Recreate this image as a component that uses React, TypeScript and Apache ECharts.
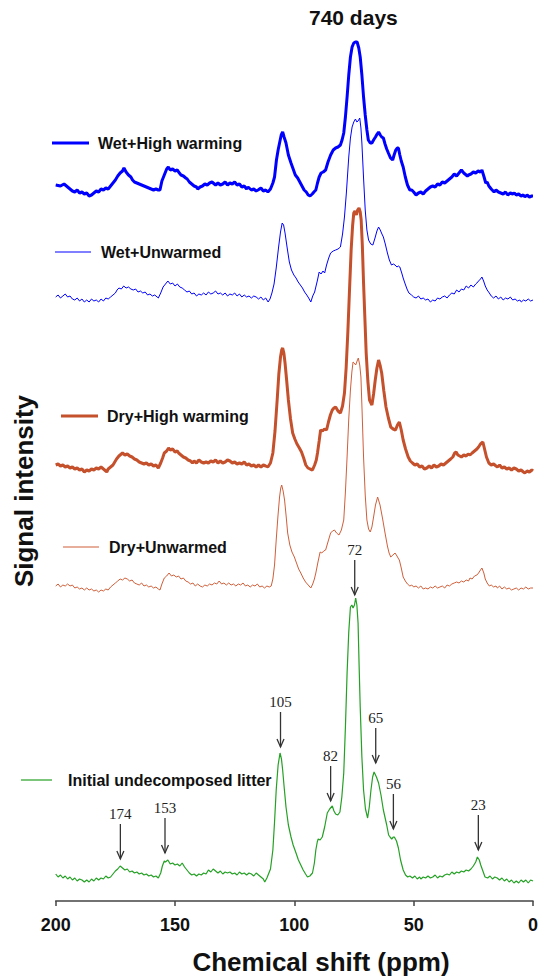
import React, { useEffect, useRef } from "react";
import * as echarts from "echarts";

// ---------- data ----------
const seriesNames = [
  "Wet+High warming",
  "Wet+Unwarmed",
  "Dry+High warming",
  "Dry+Unwarmed",
  "Initial undecomposed litter",
];
const seriesColors = ["#0000ff", "#0000ff", "#c4502c", "#cf5f3a", "#24a024"];
const seriesWidths = [3, 1, 3, 1, 1.2];
const xTicks = [200, 150, 100, 50, 0];
// vertical stacking offset of each spectrum (intensity units)
const stackOffsets = [706, 603, 435, 314, 24];

// chemical shift (ppm), signal intensity
const wetHigh: [number, number][] = [
  [200,10],[198,9],[196.5,11],[195,8],[194,6],[193,4],[192,3],[191,5],[190,2],[189,3],[188,1],[187,2],[186,-1],[185,0],[184,2],[183,4],[182,3],[181,6],[180,5],[179,7],[178,6],[177,9],[176,12],[175,15],[174,19],[173,22],[172,24],[171.4,27],[170.5,23],[169.5,20],[168.5,18],[167.8,15],[167,13],[166,12],[165,11],[164,10],[163,9],[162,8],[161,7],[160,6],[159,5],[158,6],[157,5],[156.3,5],[155.5,14],[154.5,20],[153.5,26],[152.8,28],[152,25],[151,26],[150,24],[149,25],[148.5,23],[147.5,20],[146.5,19],[145.5,17],[144.9,16],[144,13],[143,11],[142,9],[141,8],[140.5,6],[139.5,8],[138.5,9],[137.5,11],[136.5,10],[135.5,12],[134.5,13],[134,12],[133,10],[132,12],[131,10],[130,11],[129,13],[128,10],[127,12],[126,11],[125,13],[124,10],[123,11],[122,8],[121,9],[120,6],[119.4,8],[118,5],[117,6],[116,4],[115.2,5],[114,7],[113,4],[112,5],[111.1,3],[110,6],[109,12],[108.3,18],[107.5,35],[106.8,45],[106.2,52],[105.5,60],[104.9,63],[104.3,58],[103.5,52],[102.5,40],[101.4,32],[100.5,26],[99.6,20],[98.6,17],[97.7,13],[96.8,9],[95.9,5],[95,3],[94.2,0],[93.4,-1],[92.5,1],[91.8,3],[91,5],[90.3,12],[89.6,18],[88.8,22],[87.9,23],[86.9,25],[85.9,33],[84.8,40],[83.7,45],[82.7,47],[81.7,48],[80.7,50],[80,55],[79.3,62],[78.6,78],[77.9,98],[77.2,120],[76.5,138],[75.8,148],[75.1,152],[74.4,153],[73.7,153],[73,147],[72.4,138],[71.7,120],[71,98],[70.3,80],[69.6,65],[69,55],[68.2,52],[67.5,52],[66.8,55],[66,58],[65.3,61],[64.7,63],[64,60],[63.4,58],[62.7,57],[62,51],[61.3,46],[60.6,42],[59.7,37],[58.8,35],[58.2,40],[57.5,45],[56.9,47],[56.4,47],[55.8,40],[55.2,34],[54.4,28],[53.5,18],[52.6,10],[51.6,5],[50.8,5],[50,3],[49,0],[48,2],[47,3],[46,1],[45,4],[44,6],[43,8],[42,9],[41,8],[40,11],[39,10],[38,13],[37,12],[36,14],[35,16],[34,18],[33,21],[32,19],[31,22],[30,25],[29,22],[28.5,21],[27.5,19],[27,20],[26,21],[25,23],[24,22],[23,24],[22,23],[21.4,25],[20.5,18],[19.8,12],[19.2,13],[18.5,9],[17.5,6],[16.3,3],[15.5,5],[14.5,3],[13.5,2],[12.5,1],[11.5,3],[10.6,0],[9.5,2],[8.5,1],[7.8,2],[7,0],[6,1],[5,-1],[4,0],[3.4,-2],[2.5,0],[1.5,-2],[0.5,-1],[0,-1],
];

const wetUnwarmed: [number, number][] = [
  [200,1],[199,3],[198,0],[197,2],[196,4],[195,1],[194,2],[193,-1],[192,-2],[191,0],[190,-3],[189,-1],[188,-4],[187,-2],[186,-4],[185,-1],[184,-3],[183,-2],[182,-4],[181,-1],[180,-3],[179,0],[178,-1],[177,1],[176,3],[175,5],[174.3,8],[173.5,10],[172.5,9],[171.5,12],[170.5,10],[169.5,11],[168.5,9],[167.5,8],[166.5,9],[165.5,6],[164.5,7],[163.5,5],[162.5,6],[161.5,3],[160.5,4],[159.5,2],[158.5,3],[157.5,1],[157,0],[156,5],[155,11],[154,14],[153,17],[152,14],[151,15],[150,12],[149,14],[148,11],[147,10],[146,8],[145,6],[144,7],[143,4],[142,5],[141,2],[140,4],[139,3],[138,5],[137,3],[136,6],[135,4],[134,5],[133,7],[132,4],[131,5],[130,3],[129,5],[128,2],[127,4],[126,3],[125,5],[124,2],[123,4],[122,1],[121,3],[120,1],[119,2],[118,0],[117,2],[116,1],[115,-1],[114,1],[113,-2],[112,0],[111,-4],[110.2,-1],[109.4,5],[108.5,14],[107.6,30],[106.6,51],[105.8,66],[105.1,75],[104.5,73],[103.9,65],[103,50],[102.1,36],[101.2,28],[100.2,23],[99.3,20],[98.4,16],[97.5,13],[96.6,10],[95.7,6],[94.8,3],[94,0],[93.1,-4],[92.3,2],[91.5,6],[91,11],[90.3,18],[89.6,26],[88.8,24],[88,27],[87.3,25],[86.5,33],[85.6,40],[84.8,45],[83.7,47],[82.7,48],[81.7,49],[80.7,51],[79.8,64],[79,81],[78.2,105],[77.2,141],[76.5,160],[75.8,171],[75.1,176],[74.4,179],[73.8,176],[73.3,177],[72.6,180],[72.1,170],[71.7,155],[71,120],[70.3,88],[69.6,68],[68.9,58],[68,54],[67.1,53],[66.2,60],[65.4,67],[64.7,71],[64,68],[63.3,64],[62.7,61],[61.9,54],[61,45],[60.2,38],[59.3,33],[58.5,34],[57.8,33],[57,31],[56.4,32],[55.8,31],[55,25],[54.4,20],[53.7,15],[52.8,9],[52,5],[50.9,3],[50,1],[49,0],[48,2],[47,-1],[46,0],[45,-2],[44,-1],[43,-4],[42,-2],[41,-3],[40,0],[39,-1],[38,1],[37,2],[36,0],[35,3],[34,5],[33,4],[32,8],[31,6],[30,9],[29,8],[28,12],[27,10],[26,13],[25,11],[24,14],[23.5,15],[22.8,17],[22,19],[21.4,21],[20.7,17],[20,12],[19.2,8],[18.3,5],[17.5,2],[16.5,0],[15.5,2],[14.5,-1],[13.5,1],[12.5,-2],[11.5,0],[10.5,-1],[9.5,1],[8.5,-2],[7.5,-1],[6.5,-3],[5.5,-2],[4.9,-4],[4,-2],[3,-3],[2,-1],[1,-3],[0,-2],
];

const dryHigh: [number, number][] = [
  [200,1],[199,2],[198,0],[197,1],[196,-1],[195,0],[194,-2],[193,-1],[192,-3],[191,-2],[190,-4],[189,-3],[188,-6],[187,-4],[186,-5],[185,-3],[184,-4],[183,-2],[182,-3],[181,-1],[180,-3],[179,-5],[178.6,-6],[178,-3],[177,-1],[176,1],[175.5,3],[174.5,7],[173.5,10],[172.5,12],[172,13],[171,11],[170,12],[169,10],[168,9],[167,7],[166,6],[165,4],[164,3],[163,2],[162,3],[161,1],[160,2],[159,0],[158,1],[157,-2],[156,3],[155.2,8],[154.5,13],[153.5,15],[152.7,18],[152,16],[151,17],[150,14],[149,15],[148.5,13],[147.5,11],[146.5,9],[145.5,8],[144.5,6],[143.5,5],[142.7,3],[142,5],[141,3],[140,6],[139,4],[138,3],[137,4],[136,3],[135,5],[134,4],[133,6],[132,3],[131,5],[130,3],[129,4],[128,6],[127,5],[126,3],[125,4],[124,2],[123,3],[122,2],[121,4],[120,1],[119,2],[118,0],[117,1],[116,-1],[115,1],[114,-1],[113,1],[112,0],[111.1,-1],[110,3],[109,13],[108.1,35],[107.2,66],[106.5,92],[105.8,109],[105.3,116],[104.9,118],[104.4,113],[103.9,103],[103.2,85],[102.5,66],[101.6,47],[100.7,33],[99.8,27],[98.9,22],[97.9,18],[97,14],[96.1,8],[95.2,1],[94.3,-2],[93.4,-3],[92.4,-4],[91.5,1],[90.8,6],[90.3,13],[89.6,25],[89,36],[88.2,35],[87.4,37],[86.5,36],[85.7,44],[84.9,51],[84.1,56],[83.4,58],[82.7,59],[81.7,55],[80.7,53],[79.8,60],[79,73],[78.3,98],[77.6,133],[76.9,175],[76.2,216],[75.6,240],[75.1,253],[74.6,255],[74,251],[73.5,256],[72.9,258],[72.4,254],[72,246],[71.5,220],[71,183],[70.4,145],[69.9,113],[69.2,85],[68.5,66],[67.5,61],[66.8,72],[66.1,86],[65.4,98],[64.7,106],[64,100],[63.4,93],[62.5,75],[61.6,59],[60.6,48],[59.6,39],[58.6,37],[57.6,36],[56.8,41],[56,44],[55.2,36],[54.4,26],[53.4,17],[52.3,9],[51.4,5],[50.5,3],[49.5,1],[48.5,2],[47.5,-1],[46.5,0],[45.5,-3],[44.5,-2],[43.5,0],[42.5,-2],[41.5,1],[40.5,-1],[39.5,0],[38.5,2],[37.5,1],[36.5,3],[35.5,5],[34.5,7],[33.6,9],[32.8,13],[32.2,14],[31.5,11],[30.7,10],[30,9],[29,11],[28,10],[27.2,12],[26.4,11],[25.5,13],[24.5,15],[23.5,17],[22.8,19],[22,22],[21,24],[20.3,17],[19.5,9],[18.5,3],[17.5,1],[16.5,2],[15.5,0],[14.9,-1],[14,1],[13,-2],[12,-1],[11,-3],[10,-2],[9,-4],[8,-2],[7,-3],[6,-5],[5,-4],[4,-6],[3.4,-7],[2.5,-5],[1.5,-6],[0.5,-4],[0,-5],
];

const dryUnwarmed: [number, number][] = [
  [200,1],[199,3],[198,0],[197,2],[196,1],[195,3],[194,1],[193,2],[192,-1],[191,0],[190,-2],[189,-1],[188,-3],[187,-1],[186,-3],[185,-2],[184,-4],[183,-3],[182,-5],[181,-3],[180,-4],[179,-2],[178,-3],[177,0],[176,2],[175,4],[174,6],[173,8],[172,7],[171,9],[170,8],[169,6],[168,7],[167,4],[166,3],[165,2],[164,4],[163,1],[162,2],[161,0],[160,1],[159,-1],[158,0],[157,-2],[156.3,-3],[155.5,3],[154.5,9],[153.5,11],[152.5,14],[151.5,11],[150.5,12],[149.5,10],[148.5,11],[147.5,8],[146.5,9],[145.5,6],[144.5,5],[143.5,3],[142.5,4],[141.5,1],[140.5,3],[139.5,1],[138.5,0],[137.5,2],[136.5,1],[135.5,3],[134.5,2],[133.5,4],[132.5,3],[131.5,6],[130.5,3],[129.5,4],[128.5,2],[127.5,4],[126.5,2],[125.5,3],[124.5,1],[123.5,3],[122.5,2],[121.5,4],[120.5,1],[119.5,2],[118.5,0],[117.5,2],[116.5,1],[115.5,3],[114.5,0],[113.5,1],[112.5,-1],[111.5,1],[110.5,0],[109.7,1],[109,8],[108.3,22],[107.6,47],[106.9,70],[106.2,90],[105.7,99],[105.3,102],[104.7,96],[104.1,87],[103.4,70],[102.8,54],[101.9,42],[101,35],[100,30],[99.1,24],[98.2,18],[97.3,14],[96.3,9],[95.3,5],[94.2,2],[93.1,-1],[92.3,3],[91.6,8],[91,14],[90.1,25],[89.2,35],[88.5,34],[87.7,36],[86.9,37],[85.8,46],[84.8,54],[84,56],[83.2,57],[82.3,54],[81.3,52],[80.3,57],[79.3,67],[78.6,95],[77.9,130],[77.2,168],[76.5,197],[75.9,215],[75.4,225],[74.9,224],[74.3,222],[73.7,226],[73.2,229],[72.6,222],[72.1,210],[71.6,175],[71,130],[70.3,92],[69.6,67],[68.9,58],[68.2,55],[67.5,60],[66.8,70],[66,82],[65.1,90],[64.6,86],[64.1,82],[63,68],[62,54],[61,41],[60.3,34],[59.6,30],[58.7,32],[57.8,34],[57,31],[56.3,28],[56,27],[55.2,19],[54.4,10],[53.5,6],[52.6,3],[51.6,1],[50.8,2],[50,0],[49,1],[48,-1],[47,1],[46,-2],[45,-1],[44,-2],[43,0],[42,-1],[41,1],[40,-1],[39,0],[38,1],[37,-1],[36,2],[35,1],[34,3],[33,4],[32,5],[31,4],[30,6],[29,5],[28,7],[27,6],[26.4,9],[25.5,8],[24.5,11],[23.5,12],[22.8,14],[22,17],[21.4,19],[20.6,14],[20,8],[19.2,4],[18.3,1],[17.5,2],[16.5,0],[15.5,1],[14.9,-1],[14,1],[13,-2],[12,0],[11,-2],[10,-1],[9,-3],[8,-2],[7,-1],[6,-3],[5,-1],[4,-2],[3,0],[2,-2],[1,-1],[0,-1],
];

const initialLitter: [number, number][] = [
  [200,3],[199,0],[198,2],[197,-1],[196,1],[195,-2],[194,0],[193,-3],[192,-1],[191,-4],[190,-2],[189,-3],[188,-5],[187,-3],[186,-5],[185,-2],[184,-4],[183,-1],[182,-3],[181,-1],[180,-2],[179,1],[178,-1],[177,0],[176,3],[175,6],[174,8],[173,11],[172,9],[171,7],[170,8],[169,5],[168,6],[167,4],[166,5],[165,3],[164,4],[163,2],[162,3],[161,1],[160,2],[159,0],[158,1],[157,-1],[156,4],[155.3,11],[154.5,16],[154,15],[153,17],[152,13],[151,14],[150,12],[149,13],[148,11],[147,14],[146,10],[145,7],[144,4],[143,2],[142,3],[141,1],[140,3],[139,2],[138,4],[137,3],[136,7],[135,5],[134,8],[133,6],[132,4],[131,6],[130,3],[129,5],[128,4],[127,5],[126,3],[125,4],[124,2],[123,5],[122,3],[121,4],[120,2],[119,4],[118,3],[117,1],[116,4],[115,2],[114,0],[113,-2],[112.4,-5],[111.5,-1],[111,2],[110,8],[109,27],[108.3,55],[107.6,87],[106.8,112],[106,124],[105.4,118],[104.9,107],[104.2,88],[103.5,70],[102.5,52],[101.4,40],[100.5,32],[99.3,24],[98.3,17],[97.3,12],[96.3,7],[95.3,3],[94.5,0],[93.5,1],[92.4,4],[91.6,14],[91,27],[90.4,35],[90,38],[89.2,37],[88.3,40],[87.3,50],[86.2,64],[85.2,68],[84.1,71],[83.4,66],[82.7,63],[81.8,62],[80.9,65],[80.1,80],[79.3,104],[78.6,150],[77.9,204],[77.2,245],[76.5,270],[75.9,272],[75.4,269],[74.8,272],[74.3,279],[73.8,272],[73.3,254],[72.9,215],[72.4,170],[71.7,120],[71,87],[70.2,68],[69.3,59],[68.6,70],[67.9,87],[67.2,100],[66.6,105],[65.6,100],[64.7,94],[63.7,82],[62.7,67],[61.3,52],[60.5,42],[59.9,40],[59.2,38],[58.5,40],[58.1,40],[57.2,36],[56.4,29],[55.5,17],[54.4,7],[53.4,2],[52.5,0],[51.6,1],[50.5,-1],[49.5,1],[48.5,-2],[47.5,0],[47,-2],[46,0],[45,-1],[44,1],[43,-1],[42,0],[41,2],[40,-1],[39,1],[38,0],[37,2],[36,3],[35,2],[34,5],[33,3],[32,5],[31,4],[30,6],[29,5],[28,7],[27,6],[26,8],[25,11],[24,15],[23.3,20],[22.5,17],[21.9,12],[21,6],[20.1,0],[19,-1],[18,1],[17,-2],[16,0],[15,-1],[14,-3],[13,-1],[12,-4],[11,-2],[10,-5],[9,-3],[8,-6],[7,-4],[6,-6],[5,-3],[4,-5],[3,-3],[2,-6],[1,-3],[0,-4],
];

const spectra = [wetHigh, wetUnwarmed, dryHigh, dryUnwarmed, initialLitter];

// peak annotations on the initial litter spectrum
const peakLabels = ["174", "153", "105", "82", "72", "65", "56", "23"];
const peakShifts = [172.9, 154.2, 105.8, 84.8, 74.7, 65.9, 58.5, 22.9];
const peakArrowTips = [18, 24, 130, 76, 282, 114, 48, 27];

const SANS = '"Liberation Sans", Arial, Helvetica, sans-serif';
const SERIF = '"Liberation Serif", "Times New Roman", serif';

// legend placement (layout only)
const legendLayout = [
  { left: 52, top: 135, w: 37, pad: 4 },
  { left: 55, top: 244, w: 36, pad: 5 },
  { left: 61, top: 408, w: 37, pad: 4 },
  { left: 63, top: 539, w: 36, pad: 5 },
  { left: 21, top: 772, w: 31, pad: 11 },
];

export default function App() {
  const ref = useRef<HTMLDivElement>(null);

  useEffect(() => {
    if (!ref.current) return;
    const chart = echarts.init(ref.current, undefined, { renderer: "svg" });

    const lineSeries = spectra.map((sp, i) => ({
      type: "line",
      name: seriesNames[i],
      data: sp.map(([x, v]) => [x, stackOffsets[i] + v]),
      symbol: "none",
      silent: true,
      z: 2 + (i === 2 ? 2 : 0),
      lineStyle: { color: seriesColors[i], width: seriesWidths[i] },
      itemStyle: { color: seriesColors[i] },
    }));

    const annotationSeries = {
      type: "custom",
      name: "peaks",
      silent: true,
      clip: false,
      z: 5,
      data: peakShifts.map((p, i) => [p, stackOffsets[4] + peakArrowTips[i]]),
      renderItem: (params: any, api: any) => {
        const pt = api.coord([api.value(0), api.value(1)]);
        const x = pt[0];
        const y = pt[1];
        return {
          type: "group",
          children: [
            {
              type: "line",
              shape: { x1: x, y1: y - 35, x2: x, y2: y },
              style: { stroke: "#333", lineWidth: 1.3 },
            },
            {
              type: "polyline",
              shape: { points: [[x - 3.5, y - 8], [x, y], [x + 3.5, y - 8]] },
              style: { stroke: "#333", lineWidth: 1.3, fill: "none" },
            },
            {
              type: "text",
              x: x,
              y: y - 45,
              style: {
                text: peakLabels[params.dataIndex],
                align: "center",
                verticalAlign: "middle",
                fontSize: 15,
                fontFamily: SERIF,
                fill: "#222",
              },
            },
          ],
        };
      },
    };

    const legends = legendLayout.map((l, i) => ({
      data: [seriesNames[i]],
      left: l.left,
      top: l.top,
      padding: 0,
      icon: "rect",
      itemWidth: l.w,
      itemHeight: seriesWidths[i] > 2 ? 3 : 1.2,
      selectedMode: false,
      itemStyle: { color: seriesColors[i], borderWidth: 0 },
      textStyle: {
        fontSize: 16,
        fontWeight: "bold",
        fontFamily: SANS,
        color: "#111",
        padding: [0, 0, 0, l.pad],
      },
    }));

    chart.setOption({
      animation: false,
      backgroundColor: "#ffffff",
      title: {
        text: "740 days",
        left: 309,
        top: 7,
        padding: 0,
        textStyle: { fontSize: 21, fontWeight: "bold", fontFamily: SANS, color: "#111" },
      },
      legend: legends,
      grid: { left: 55.7, right: 3.3, top: 20, bottom: 76 },
      xAxis: {
        type: "value",
        inverse: true,
        min: 0,
        max: 200,
        interval: 50,
        axisLine: { show: true, lineStyle: { color: "#444", width: 1.5 } },
        axisTick: { show: true, length: 5, lineStyle: { color: "#444", width: 1.5 } },
        splitLine: { show: false },
        axisLabel: {
          fontSize: 18,
          fontWeight: "bold",
          fontFamily: SANS,
          color: "#111",
          margin: 15,
          formatter: (v: number) => (xTicks.includes(v) ? String(v) : ""),
        },
      },
      yAxis: { type: "value", min: 0, max: 881, show: false },
      graphic: [
        {
          type: "text",
          x: 321,
          y: 962,
          style: {
            text: "Chemical shift (ppm)",
            align: "center",
            verticalAlign: "middle",
            fontSize: 26,
            fontWeight: "bold",
            fontFamily: SANS,
            fill: "#111",
          },
        },
        {
          type: "text",
          x: 24,
          y: 491,
          rotation: Math.PI / 2,
          style: {
            text: "Signal intensity",
            align: "center",
            verticalAlign: "middle",
            fontSize: 26,
            fontWeight: "bold",
            fontFamily: SANS,
            fill: "#111",
          },
        },
      ],
      series: [...lineSeries, annotationSeries],
    });

    return () => chart.dispose();
  }, []);

  return (
    <div
      ref={ref}
      style={{ position: "fixed", left: 0, top: 0, width: 541, height: 977, background: "#fff" }}
    />
  );
}
